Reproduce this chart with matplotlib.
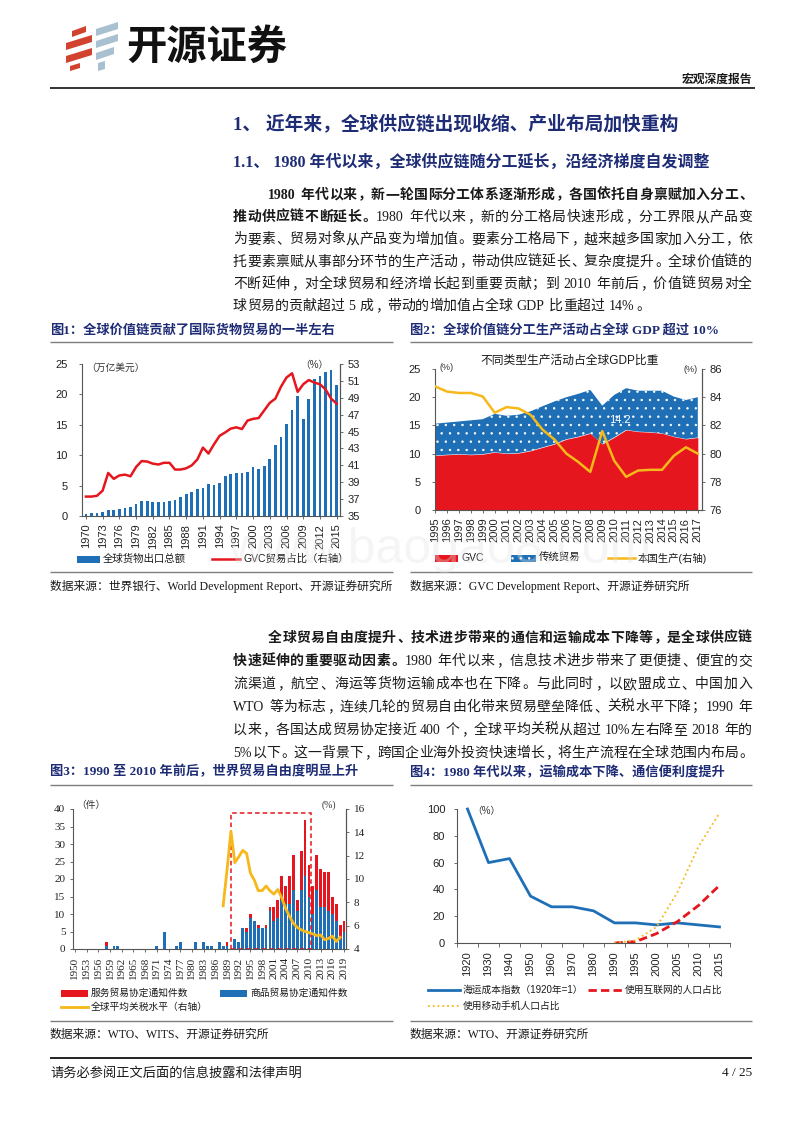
import re
import numpy as np
import matplotlib
matplotlib.use("Agg")
import matplotlib.pyplot as plt
from matplotlib.patches import Rectangle, Polygon

W, H = 800, 1132
SANS = ["Liberation Sans", "Noto Sans CJK SC", "DejaVu Sans"]
SERIF = ["Liberation Serif", "Noto Sans CJK SC", "DejaVu Sans"]
plt.rcParams["font.family"] = SANS
plt.rcParams["hatch.color"] = "white"
plt.rcParams["hatch.linewidth"] = 0.5

NAVY = "#1e2c76"
BLUE = "#1f6fb6"
RED = "#e5161d"
YELLOW = "#f6b81a"
INK = "#1a1a1a"

# ---------------- data ----------------
# 图1 全球货物出口总额(万亿美元) / GVC贸易占比(%)
fig1_years = list(range(1970, 2016))
fig1_exports = [0.4, 0.45, 0.55, 0.65, 0.95, 0.95, 1.2, 1.35, 1.55, 1.9,
                2.4, 2.4, 2.25, 2.25, 2.25, 2.4, 2.7, 3.1, 3.6, 3.9,
                4.4, 4.6, 5.2, 5.1, 5.5, 6.6, 6.9, 7.1, 7.1, 7.25,
                8.1, 7.7, 8.3, 9.45, 11.6, 13.0, 15.05, 17.5, 19.8, 16.0,
                19.2, 22.6, 23.0, 23.7, 24.0, 21.5]
fig1_gvc_share = [37.3, 37.3, 37.4, 38.0, 40.1, 39.4, 39.8, 39.9, 39.7, 40.8,
                  41.5, 41.45, 41.2, 41.1, 41.3, 41.3, 40.5, 40.5, 40.65, 41.0,
                  41.7, 43.1, 42.4, 43.5, 44.5, 44.9, 45.35, 45.5, 45.3, 46.3,
                  46.5, 46.6, 47.5, 48.4, 48.9, 50.3, 51.4, 51.9, 49.7, 50.6,
                  51.1, 50.8, 50.6, 50.0, 48.9, 48.3]

# 图2 不同类型生产活动占全球GDP比重(%)
fig2_years = list(range(1995, 2018))
fig2_gvc = [9.65, 9.8, 9.9, 9.8, 9.9, 10.25, 10.0, 10.1, 10.5, 11.1, 11.7, 12.55,
            13.0, 13.6, 11.7, 12.9, 14.2, 13.9, 13.8, 13.6, 13.0, 12.6, 12.85]
fig2_traditional = [5.65, 5.7, 5.8, 6.1, 6.2, 6.8, 6.7, 6.8, 7.0, 7.3, 7.55, 7.45,
                    7.6, 7.7, 6.8, 7.5, 7.4, 7.25, 7.35, 7.55, 7.1, 6.9, 7.15]
fig2_domestic = [84.77, 84.4, 84.3, 84.3, 84.05, 82.9, 83.3, 83.2, 82.75, 81.7, 81.0, 80.0,
                 79.4, 78.7, 81.6, 79.5, 78.35, 78.8, 78.85, 78.85, 79.85, 80.45, 80.0]

# 图3 贸易协定通知件数 / 全球平均关税水平(%)
fig3_years = list(range(1950, 2020))
fig3_goods = [0, 0, 0, 0, 0, 0, 0, 0, 1, 0,        # 1950-1959
              1, 1, 0, 0, 0, 0, 0, 0, 0, 0,        # 1960-1969
              0, 1, 0, 5, 0, 0, 1, 2, 0, 0,        # 1970-1979
              0, 2, 0, 2, 1, 1, 0, 2, 1, 1,        # 1980-1989
              0, 3, 2, 6, 5, 9, 8, 6, 6, 6,        # 1990-1999
              11, 8, 9, 14, 13, 13, 17, 11, 17, 21,  # 2000-2009
              15, 10, 17, 12, 12, 11, 10, 8, 3, 5]   # 2010-2019
fig3_services = [0, 0, 0, 0, 0, 0, 0, 0, 1, 0,
                 0, 0, 0, 0, 0, 0, 0, 0, 0, 0,
                 0, 0, 0, 0, 0, 0, 0, 0, 0, 0,
                 0, 0, 0, 0, 0, 0, 0, 0, 0, 1,
                 0, 0, 0, 0, 1, 1, 0, 1, 0, 1,
                 1, 4, 5, 7, 5, 8, 10, 3, 11, 16,
                 9, 8, 10, 11, 10, 11, 5, 5, 4, 3]
fig3_tariff_years = list(range(1988, 2019))
fig3_tariff = [7.7, 10.8, 14.1, 11.4, 11.9, 12.45, 12.2, 10.5, 9.9, 9.0, 9.0, 9.4, 9.0,
               8.7, 9.1, 8.4, 7.5, 6.8, 6.2, 5.85, 5.65, 5.5, 5.4, 5.3, 5.15, 5.2,
               4.8, 4.9, 5.1, 4.65, 5.0]
fig3_box_years = (1990, 2010)

# 图4 运输成本与通信
fig4_cats = ["1920", "1930", "1940", "1950", "1960", "1970", "1980",
             "1990", "1995", "2000", "2005", "2010", "2015"]
fig4_shipping = [100, 60, 63, 35, 27, 27, 24, 15, 15, 13.5, 15, 13.5, 12]
fig4_internet = [0, 1, 7, 16, 28, 43]      # 1990-2015
fig4_mobile = [0, 2, 12, 38, 72, 97]       # 1990-2015

para1 = [
    [("1980 年代以来，新一轮国际分工体系逐渐形成，各国依托自身禀赋加入分工、", True)],
    [("推动供应链不断延长。", True), ("1980 年代以来，新的分工格局快速形成，分工界限从产品变", False)],
    [("为要素、贸易对象从产品变为增加值。要素分工格局下，越来越多国家加入分工，依", False)],
    [("托要素禀赋从事部分环节的生产活动，带动供应链延长、复杂度提升。全球价值链的", False)],
    [("不断延伸，对全球贸易和经济增长起到重要贡献；到 2010 年前后，价值链贸易对全", False)],
    [("球贸易的贡献超过 5 成，带动的增加值占全球 GDP 比重超过 14%。", False)],
]
para2 = [
    [("全球贸易自由度提升、技术进步带来的通信和运输成本下降等，是全球供应链", True)],
    [("快速延伸的重要驱动因素。", True), ("1980 年代以来，信息技术进步带来了更便捷、便宜的交", False)],
    [("流渠道，航空、海运等货物运输成本也在下降。与此同时，以欧盟成立、中国加入", False)],
    [("WTO 等为标志，连续几轮的贸易自由化带来贸易壁垒降低、关税水平下降；1990 年", False)],
    [("以来，各国达成贸易协定接近 400 个，全球平均关税从超过 10%左右降至 2018 年的", False)],
    [("5%以下。这一背景下，跨国企业海外投资快速增长，将生产流程在全球范围内布局。", False)],
]

# ---------------- page ----------------
fig = plt.figure(figsize=(8, 11.32), dpi=100)
page = fig.add_axes([0, 0, 1, 1])
page.set_xlim(0, W)
page.set_ylim(H, 0)
page.axis("off")
renderer = fig.canvas.get_renderer()


def box(x0, y0, x1, y1):
    return [x0 / W, 1 - y1 / H, (x1 - x0) / W, (y1 - y0) / H]


def hline(x0, x1, y, color="#7f7f7f", lw=1.0):
    page.plot([x0, x1], [y, y], color=color, lw=lw, solid_capstyle="butt")


PUNCT_L = set("，。、；：）")
PUNCT_R = set("（")


def draw_line(segs, x0, x1, y, size=10, justify=True):
    em = size * 100 / 72
    items = []
    for txt, bold in segs:
        for tok in re.findall(r"[A-Za-z0-9%.=/]+| |.", txt):
            if tok == " ":
                items.append(("space", tok, bold, em * 0.28))
            elif tok.isascii():
                t = page.text(0, 0, tok, fontsize=size, family=SERIF,
                              fontweight="bold" if bold else "normal")
                w = t.get_window_extent(renderer).width
                t.remove()
                items.append(("latin", tok, bold, w + em * 0.06))
            else:
                items.append(("cjk", tok, bold, em))
    total = sum(it[3] for it in items)
    n = sum(1 for it in items if it[0] != "space")
    extra = (x1 - x0 - total) / max(n - 1, 1) if justify else 0
    x = x0
    base = y + em * 0.36
    for kind, tok, bold, w in items:
        kw = dict(fontsize=size, family=SERIF, color=INK, va="baseline",
                  fontweight="bold" if bold else "normal")
        if kind == "cjk":
            if tok in PUNCT_L:
                page.text(x + em * 0.08, base, tok, ha="left", **kw)
            elif tok in PUNCT_R:
                page.text(x + w - em * 0.08, base, tok, ha="right", **kw)
            else:
                page.text(x + w / 2, base, tok, ha="center", **kw)
        elif kind == "latin":
            page.text(x, base, tok, ha="left", **kw)
        x += w if kind == "space" else w + extra


# logo
for pts in [[(72, 31), (86, 26), (86, 32), (72, 37)],
            [(66, 43), (92, 35), (92, 42), (66, 50)],
            [(66, 56), (92, 48), (92, 55), (66, 63)],
            [(70, 66), (80, 63), (80, 68), (70, 71)]]:
    page.add_patch(Polygon(pts, closed=True, color="#d2432f", lw=0))
for pts in [[(96, 29), (118, 22), (118, 29), (96, 36)],
            [(96, 41), (118, 34), (118, 41), (96, 48)],
            [(96, 53), (114, 47), (114, 54), (96, 60)],
            [(98, 63), (105, 61), (105, 69), (98, 71)]]:
    page.add_patch(Polygon(pts, closed=True, color="#a8c0cf", lw=0))
page.text(126, 47, "开源证券", fontsize=29, fontweight="bold", color="#111111",
          va="center", ha="left", family=["Noto Sans CJK SC"])

page.text(752, 80, "宏观深度报告", fontsize=8.5, fontweight="bold", color=INK,
          ha="right", va="center", family=SERIF)
hline(50, 755, 88, color="#333333", lw=1.4)

page.text(233, 125, "1、 近年来，全球供应链出现收缩、产业布局加快重构", fontsize=13.5,
          fontweight="bold", color=NAVY, va="center", family=SERIF)
page.text(233, 163, "1.1、 1980 年代以来，全球供应链随分工延长，沿经济梯度自发调整",
          fontsize=11.5, fontweight="bold", color=NAVY, va="center", family=SERIF)

for i, segs in enumerate(para1):
    draw_line(segs, 268 if i == 0 else 233, 752, 194 + i * 22.2,
              justify=i < len(para1) - 1)
for i, segs in enumerate(para2):
    draw_line(segs, 268 if i == 0 else 233, 752, 637 + i * 23.0, justify=True)

# captions / rules / sources
cap = dict(fontsize=9.5, fontweight="bold", color=NAVY, va="center", family=SERIF)
src = dict(fontsize=8.5, color=INK, va="center", family=SERIF)
page.text(50, 330, "图1：全球价值链贡献了国际货物贸易的一半左右", **cap)
page.text(410, 330, "图2：全球价值链分工生产活动占全球 GDP 超过 10%", **cap)
hline(50, 393, 342)
hline(410, 752, 342)
hline(50, 393, 572)
hline(410, 752, 572)
page.text(50, 586, "数据来源：世界银行、World Development Report、开源证券研究所", **src)
page.text(410, 586, "数据来源：GVC Development Report、开源证券研究所", **src)

page.text(50, 772, "图3：1990 至 2010 年前后，世界贸易自由度明显上升", **cap)
page.text(410, 772, "图4：1980 年代以来，运输成本下降、通信便利度提升", **cap)
hline(50, 393, 785)
hline(410, 752, 785)
hline(50, 393, 1021)
hline(410, 752, 1021)
page.text(50, 1035, "数据来源：WTO、WITS、开源证券研究所", **src)
page.text(410, 1035, "数据来源：WTO、开源证券研究所", **src)

hline(50, 752, 1058, color="#222222", lw=1.4)
page.text(50, 1073, "请务必参阅正文后面的信息披露和法律声明", fontsize=9.5, color=INK,
          va="center", family=SERIF)
page.text(752, 1073, "4 / 25", fontsize=9.5, color=INK, va="center", ha="right", family=SERIF)


def style(ax, sides=("left", "bottom"), size=8, family=SANS):
    for s in ("left", "right", "top", "bottom"):
        ax.spines[s].set_visible(s in sides)
        ax.spines[s].set_color("#555555")
        ax.spines[s].set_linewidth(0.8)
    ax.tick_params(labelsize=size, length=2.5, width=0.6, color="#555555",
                   labelcolor="#222222", pad=3)
    for lab in ax.get_xticklabels() + ax.get_yticklabels():
        lab.set_family(family)
    ax.set_facecolor("none")


def leg_patch(x, y, w, label, size=7.5, h=7, **kw):
    page.add_patch(Rectangle((x, y - h / 2), w, h, lw=0, **kw))
    page.text(x + w + 3, y, label, fontsize=size, va="center", color=INK, family=SANS)


def leg_line(x, y, w, label, size=7.5, **kw):
    page.plot([x, x + w], [y, y], **kw)
    page.text(x + w + 3, y, label, fontsize=size, va="center", color=INK, family=SANS)


# ---------------- 图1 ----------------
ax1 = fig.add_axes(box(82, 364, 340, 516))
x1 = np.arange(len(fig1_years))
ax1.bar(x1, fig1_exports, width=0.5, color=BLUE)
ax1.set_xlim(-0.7, len(fig1_years) - 0.4)
ax1.set_ylim(0, 25)
ax1.set_yticks(range(0, 26, 5))
ax1.set_xticks(x1[::3])
ax1.set_xticklabels([str(y) for y in fig1_years[::3]], rotation=90)
ax1b = ax1.twinx()
ax1b.plot(x1, fig1_gvc_share, color=RED, lw=1.8)
ax1b.set_ylim(35, 53)
ax1b.set_yticks(range(35, 54, 2))
style(ax1, ("left", "bottom", "right"))
style(ax1b, ("right",))
ax1.tick_params(axis="y", pad=8)
page.text(86, 368, "（万亿美元）", fontsize=7, color="#333333", va="center")
page.text(300, 365, "（%）", fontsize=7, color="#333333", va="center")
leg_patch(77, 559, 23, "全球货物出口总额", color=BLUE)
leg_line(212, 559, 28, "GVC贸易占比（右轴）", color=RED, lw=1.8)

# ---------------- 图2 ----------------
ax2 = fig.add_axes(box(435, 369, 702, 510))
g2 = np.array(fig2_gvc)
t2 = g2 + np.array(fig2_traditional)
ax2.fill_between(fig2_years, 0, g2, color=RED, lw=0)
ax2.fill_between(fig2_years, g2, t2, facecolor=BLUE, hatch="..", edgecolor="white", lw=0)
ax2.set_xlim(1995, 2017.35)
ax2.set_ylim(0, 25)
ax2.set_yticks(range(0, 26, 5))
ax2.set_xticks(fig2_years)
ax2.set_xticklabels([str(y) for y in fig2_years], rotation=90)
i_max = int(np.argmax(g2))
ax2.text(fig2_years[i_max] - 0.5, g2[i_max] + 1.7, f"{g2[i_max]:.1f}", color="white",
         fontsize=8, ha="center", va="center", zorder=5)
ax2b = ax2.twinx()
ax2b.plot(fig2_years, fig2_domestic, color=YELLOW, lw=1.8)
ax2b.set_ylim(76, 86)
ax2b.set_yticks(range(76, 87, 2))
style(ax2, ("left", "bottom", "right"))
style(ax2b, ("right",))
ax2.tick_params(axis="y", pad=8)
page.text(570, 361, "不同类型生产活动占全球GDP比重", fontsize=8.5, color=INK,
          ha="center", va="center")
page.text(440, 367, "(%)", fontsize=6.5, color="#333333", va="center")
page.text(698, 369, "(%)", fontsize=6.5, color="#333333", va="center", ha="right")
leg_patch(435, 558, 23, "GVC", color=RED)
leg_patch(511, 558, 25, "传统贸易", facecolor=BLUE, hatch="..", edgecolor="white")
leg_line(608, 558, 27, "本国生产(右轴)", color=YELLOW, lw=1.8)

# ---------------- 图3 ----------------
ax3 = fig.add_axes(box(73, 809, 346, 949))
ax3.bar(fig3_years, fig3_goods, width=0.72, color=BLUE)
ax3.bar(fig3_years, fig3_services, bottom=fig3_goods, width=0.72, color=RED)
ax3.set_xlim(1949.5, 2019.5)
ax3.set_ylim(0, 40)
ax3.set_yticks(range(0, 41, 5))
ax3.set_xticks(fig3_years[::3])
ax3.set_xticklabels([str(y) for y in fig3_years[::3]], rotation=90)
ax3.add_patch(Rectangle((fig3_box_years[0], 0), fig3_box_years[1] - fig3_box_years[0] + 0.6, 39,
                        fill=False, edgecolor=RED, ls=(0, (3, 2)), lw=1.1, zorder=4))
ax3b = ax3.twinx()
ax3b.plot(fig3_tariff_years, fig3_tariff, color=YELLOW, lw=2)
ax3b.set_ylim(4, 16)
ax3b.set_yticks(range(4, 17, 2))
style(ax3, ("left", "bottom", "right"), family=SERIF)
style(ax3b, ("right",), family=SERIF)
page.text(76, 805, "（件）", fontsize=7, color="#333333", va="center")
page.text(322, 805, "(%)", fontsize=7, color="#333333", va="center", family=SERIF)
leg_patch(61, 993, 27, "服务贸易协定通知件数", size=7, color=RED)
leg_patch(220, 993, 27, "商品贸易协定通知件数", size=7, color=BLUE)
leg_line(61, 1007, 27, "全球平均关税水平（右轴）", size=7, color=YELLOW, lw=2)

# ---------------- 图4 ----------------
ax4 = fig.add_axes(box(457, 809, 730, 943))
x4 = np.arange(len(fig4_cats))
n_new = len(fig4_internet)
ax4.plot(x4, fig4_shipping, color=BLUE, lw=2, clip_on=False)
ax4.plot(x4[-n_new:], fig4_internet, color=RED, ls=(0, (3, 1.5)), lw=2)
ax4.plot(x4[-n_new:], fig4_mobile, color=YELLOW, ls=":", lw=1.3)
ax4.set_xlim(-0.5, len(fig4_cats) - 0.5)
ax4.set_ylim(0, 100)
ax4.set_yticks(range(0, 101, 20))
ax4.set_xticks(x4)
ax4.set_xticklabels(fig4_cats, rotation=90)
ax4.set_xticks(np.arange(len(fig4_cats) + 1) - 0.5, minor=True)
style(ax4, ("left", "bottom"))
ax4.tick_params(axis="y", pad=6)
ax4.tick_params(axis="x", which="major", length=0, pad=6)
ax4.tick_params(axis="x", which="minor", length=3, width=0.6, color="#555555")
page.text(472, 811, "（%）", fontsize=7, color="#333333", va="center")
leg_line(428, 990, 32, "海运成本指数（1920年=1）", size=7, color=BLUE, lw=2)
leg_line(588, 990, 34, "使用互联网的人口占比", size=7, color=RED, ls=(0, (3, 1.5)), lw=2)
leg_line(428, 1006, 32, "使用移动手机人口占比", size=7, color=YELLOW, ls=":", lw=1.3)

# watermark
fig.text(440 / W, 1 - 550 / H, "www.baogao8.com", fontsize=36, color="#e4e4e4",
         alpha=0.35, ha="center", va="center", family=["Liberation Sans"], zorder=10)

fig.savefig("out.png", dpi=100)
